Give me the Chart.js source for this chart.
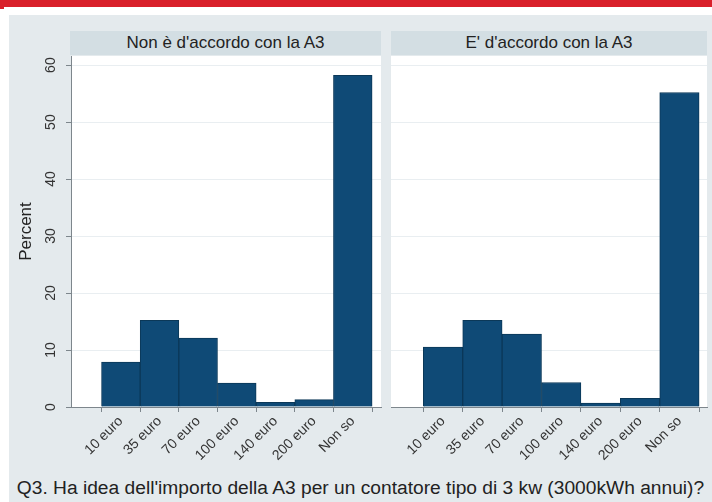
<!DOCTYPE html>
<html>
<head>
<meta charset="utf-8">
<script src="https://cdn.jsdelivr.net/npm/chart.js@4"></script>
<style>
  body { margin: 0; width: 712px; height: 502px; background: #fff; position: relative; overflow: hidden; font-family: "Liberation Sans", Arial, sans-serif; }
  #redbar { position: absolute; left: 0; top: 0; width: 712px; height: 7px; background: #d9202a; }
  #redtab { position: absolute; left: 0; top: 7px; width: 4px; height: 2px; background: #d9202a; }
  #panel { position: absolute; left: 9px; top: 15px; width: 703px; height: 487px; background: #e4eaed; }
  .hdr { position: absolute; top: 31px; height: 24px; background: #d3dee3; color: #222; font-size: 17px; line-height: 24px; text-align: center; }
  .plotbg { position: absolute; top: 56px; height: 351px; background: #fff; }
  canvas { position: absolute; }
  #title { position: absolute; left: 9px; width: 703px; top: 477px; text-align: center; font-size: 19.2px; color: #222; white-space: nowrap; }
</style>
</head>
<body>
<div id="redbar"></div>
<div id="redtab"></div>
<div id="panel"></div>
<div class="hdr" style="left:70px;width:311px;">Non è d'accordo con la A3</div>
<div class="hdr" style="left:391px;width:316px;">E' d'accordo con la A3</div>
<div class="plotbg" style="left:71px;width:310px;"></div>
<div class="plotbg" style="left:391px;width:316px;"></div>
<div style="position:absolute;left:0;top:56px;width:385px;height:420px;"><canvas id="left"></canvas></div>
<div style="position:absolute;left:385px;top:56px;width:327px;height:420px;"><canvas id="right"></canvas></div>
<div id="title">Q3. Ha idea dell'importo della A3 per un contatore tipo di 3 kw (3000kWh annui)?</div>
<script>
// Data
const categories = ["10 euro", "35 euro", "70 euro", "100 euro", "140 euro", "200 euro", "Non so"];
const nonAccordo = [7.9, 15.2, 12.1, 4.2, 0.8, 1.3, 58.2];
const accordo = [10.5, 15.2, 12.8, 4.3, 0.7, 1.5, 55.2];
const yTicks = [0, 10, 20, 30, 40, 50, 60];

const barColor = "#0f4a76";
const axisColor = "#7d868c";

// rotated y tick labels
const rotatedYLabels = {
    id: "rotatedYLabels",
    afterDraw(chart, args, opts) {
        if (!opts.show) return;
        const s = chart.scales.y;
        const ctx = chart.ctx;
        ctx.save();
        ctx.fillStyle = "#333";
        ctx.font = "14px 'Liberation Sans', Arial, sans-serif";
        ctx.textAlign = "center";
        ctx.textBaseline = "middle";
        s.ticks.forEach(t => {
            ctx.save();
            ctx.translate(s.right - 20, s.getPixelForValue(t.value));
            ctx.rotate(-Math.PI / 2);
            ctx.fillText(String(t.value), 0, 0);
            ctx.restore();
        });
        ctx.restore();
    }
};

function makeChart(id, values, isLeft, xMin, xMax) {
    return new Chart(document.getElementById(id), {
        type: "bar",
        data: {
            datasets: [{
                data: values.map((v, i) => ({ x: i, y: v })),
                backgroundColor: barColor,
                borderColor: "#0b3858",
                borderWidth: 1,
                barPercentage: 1,
                categoryPercentage: 1
            }]
        },
        options: {
            responsive: true,
            maintainAspectRatio: false,
            animation: false,
            layout: { padding: { left: 0, right: isLeft ? 4 : 5, top: 0, bottom: 0 } },
            plugins: {
                legend: { display: false },
                tooltip: { enabled: false },
                rotatedYLabels: { show: isLeft }
            },
            scales: {
                x: {
                    type: "linear",
                    offset: false,
                    min: xMin,
                    max: xMax,
                    afterBuildTicks: s => { s.ticks = categories.map((c, i) => ({ value: i })); },
                    afterFit: s => { s.height = 69; },
                    ticks: {
                        autoSkip: false,
                        minRotation: 45,
                        maxRotation: 45,
                        padding: 1,
                        color: "#333",
                        font: { family: "'Liberation Sans', Arial, sans-serif", size: 14 },
                        callback: v => categories[v]
                    },
                    grid: { drawOnChartArea: false, tickLength: 5, tickColor: axisColor },
                    border: { color: axisColor }
                },
                y: {
                    min: 0,
                    max: 61.6,
                    afterBuildTicks: s => { s.ticks = yTicks.map(v => ({ value: v })); },
                    afterFit: s => { s.width = isLeft ? 71 : 6; },
                    ticks: { display: false },
                    grid: {
                        color: "#e9eef1",
                        drawTicks: isLeft,
                        tickLength: 5,
                        tickColor: axisColor
                    },
                    border: { display: isLeft, color: axisColor },
                    title: {
                        display: isLeft,
                        text: "Percent",
                        color: "#222",
                        font: { family: "'Liberation Sans', Arial, sans-serif", size: 17 },
                        padding: { top: 16, bottom: 0 }
                    }
                }
            }
        },
        plugins: [rotatedYLabels]
    });
}

makeChart("left", nonAccordo, true, -1.29, 6.73);
makeChart("right", accordo, false, -1.32, 6.7);
</script>
</body>
</html>
